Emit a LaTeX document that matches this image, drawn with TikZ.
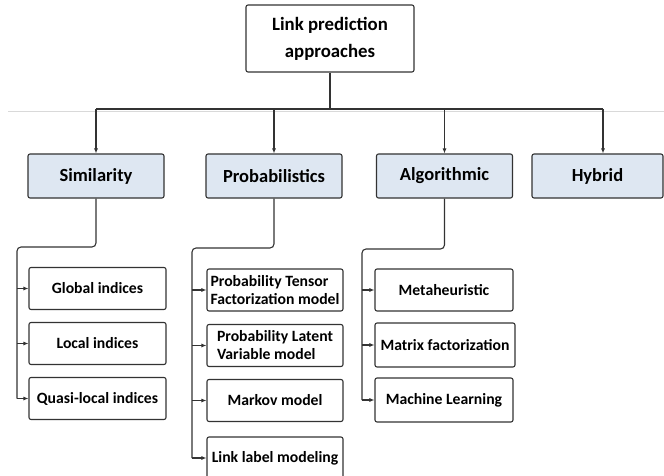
\documentclass[tikz,border=0pt]{standalone}
\usepackage{fontspec}
\setmainfont{Carlito}
\usetikzlibrary{arrows.meta}
\definecolor{catfill}{RGB}{222,231,242}
\begin{document}
\begin{tikzpicture}[x=1pt, y=-1pt, every node/.style={draw=black!80, rounded corners=2pt, line width=1.1pt, inner sep=0pt},
  cat/.style={fill=catfill, minimum width=136pt, minimum height=44pt, font=\fontsize{18.5}{22}\selectfont\bfseries},
  leaf/.style={fill=white, minimum width=137pt, minimum height=42pt, font=\fontsize{15.7}{18}\selectfont\bfseries},
  link/.style={draw=black!80, line width=1.1pt},
  arr/.style={link, -{Latex[length=5pt, width=4pt]}}]
\useasboundingbox (0,0) rectangle (664,476);
\draw[black!15, line width=0.8pt] (8,111) -- (664,111);
\node[fill=white, minimum width=168pt, minimum height=67pt, align=center, font=\fontsize{18.8}{27}\selectfont\bfseries] (R) at (330,38.5) {Link prediction\\approaches};
\node[cat] (C1) at (96,176) {Similarity};
\node[cat] (C2) at (274,176) {Probabilistics};
\node[cat] (C3) at (444.5,176) {Algorithmic};
\node[cat, minimum width=131pt] (C4) at (597.5,176) {Hybrid};
\node[leaf] (C1N1) at (97.5,288.5) {Global indices};
\node[leaf] (C1N2) at (97.5,343.5) {Local indices};
\node[leaf] (C1N3) at (97.5,398.5) {Quasi-local indices};
\node[leaf, minimum width=136pt, align=left] (C2N1) at (275,290) {Probability Tensor\\Factorization model};
\node[leaf, minimum width=136pt, align=left] (C2N2) at (275,345.5) {Probability Latent\\Variable model};
\node[leaf, minimum width=136pt] (C2N3) at (275,400.5) {Markov model};
\node[leaf, minimum width=136pt] (C2N4) at (275,458) {Link label modeling};
\node[leaf, minimum width=138pt] (C3N1) at (444,290) {Metaheuristic};
\node[leaf, minimum width=140pt, minimum height=44pt] (C3N2) at (445,345) {Matrix factorization};
\node[leaf, minimum width=138pt, minimum height=44pt] (C3N3) at (444,400) {Machine Learning};
% top level
\coordinate (H) at (330,109);
\coordinate (H4) at (603,109);
\draw[link] (R.south) -- (H);
\draw[link] (C1.north |- H) -- (H4);
\draw[arr] (C1.north |- H) -- (C1.north);
\draw[arr] (C2.north |- H) -- (C2.north);
\draw[arr] (C3.north |- H) -- (C3.north);
\draw[arr] (H4) -- (H4 |- C4.north);
% branches
\coordinate (C1T) at (17,247);
\coordinate (C1E) at (17,398.5);
\coordinate (C2T) at (192,248);
\coordinate (C2E) at (192,458);
\coordinate (C3T) at (362,249);
\coordinate (C3E) at (362,400);
\draw[link, rounded corners=4pt] (C1.south) |- (C1T) -- (C1E);
\draw[link, rounded corners=4pt] (C2.south) |- (C2T) -- (C2E);
\draw[link, rounded corners=4pt] (C3.south) |- (C3T) -- (C3E);
\foreach \i in {1,2,3} \draw[arr] (C1T |- C1N\i.west) -- (C1N\i.west);
\foreach \i in {1,2,3,4} \draw[arr] (C2T |- C2N\i.west) -- (C2N\i.west);
\foreach \i in {1,2,3} \draw[arr] (C3T |- C3N\i.west) -- (C3N\i.west);
\end{tikzpicture}
\end{document}
